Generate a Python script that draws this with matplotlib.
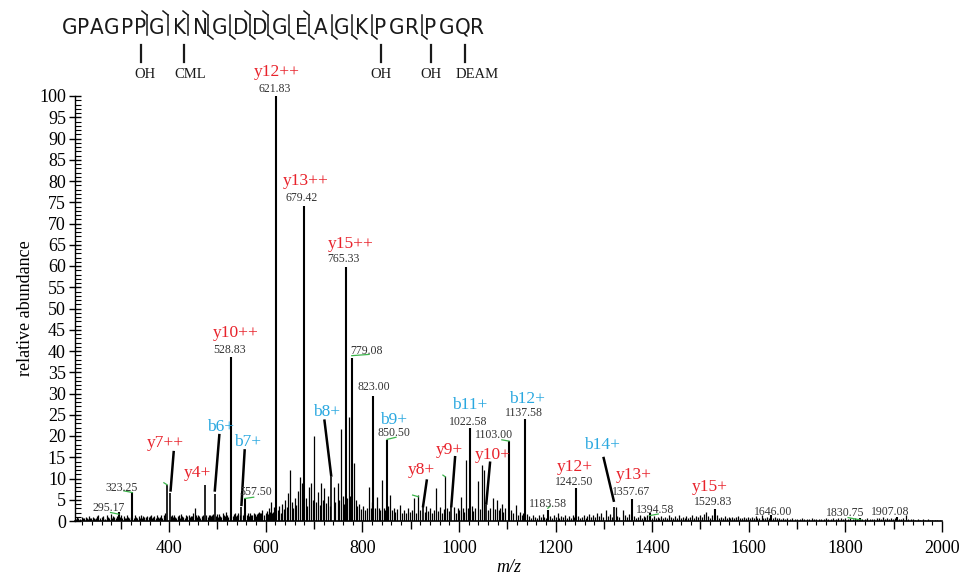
import matplotlib
matplotlib.use("Agg")
import matplotlib.pyplot as plt
from matplotlib.ticker import MultipleLocator, FuncFormatter
from matplotlib.lines import Line2D

# ---------------- data ----------------
# labelled peaks (m/z, relative abundance)
peak_mz = [621.83, 679.42, 765.33, 528.83, 779.08, 823.00, 1137.58, 1022.58, 850.50,
           1103.00, 323.25, 1242.50, 557.50, 1357.67, 1183.58, 1529.83, 295.17,
           1394.58, 1646.00, 1830.75, 1907.08]
peak_h = [100, 74.1, 59.8, 38.6, 38.4, 29.4, 23.9, 21.8, 19.0,
          18.9, 6.9, 7.7, 5.3, 5.1, 2.6, 2.75, 2.2,
          1.8, 1.4, 0.8, 0.9]

# peaks picked by the ion annotations
ion_mz = [396, 402.7, 473.6, 494.0, 548.0, 735.7, 925.3, 983.9, 1056.3, 1321.0]
ion_h = [8.5, 6.6, 8.5, 6.4, 3.2, 10.4, 3.2, 3.2, 3.8, 3.2]

# background peaks
noise_low = [(208, 0.5), (210, 0.9), (212, 0.8), (216, 0.4), (219, 1.0), (221, 0.7), (223, 0.6),
             (227, 0.9), (229, 0.6), (231, 0.5), (234, 1.2), (236, 0.8), (238, 0.7), (242, 1.0),
             (244, 0.6), (246, 0.5), (249, 0.8), (251, 1.1), (253, 1.3), (257, 0.6), (260, 0.9),
             (262, 0.7), (264, 1.1), (268, 0.5), (271, 1.4), (273, 0.9), (275, 0.8), (279, 1.6),
             (282, 0.7), (284, 1.2), (286, 1.0), (289, 0.6), (292, 1.2), (299, 0.9), (301, 1.3),
             (303, 0.6), (306, 1.1), (308, 0.8), (310, 0.8), (313, 1.5), (315, 1.0), (317, 0.7),
             (320, 1.0), (327, 0.8), (330, 1.3), (332, 0.9), (334, 0.6), (337, 1.1), (339, 0.8),
             (341, 1.4), (344, 0.7), (346, 1.2), (348, 1.0), (351, 0.6), (353, 0.9), (355, 1.2),
             (358, 0.9), (360, 1.1), (362, 1.5), (365, 0.7), (367, 1.0), (369, 1.1), (372, 0.6),
             (375, 1.4), (377, 0.9), (379, 0.8), (382, 1.0), (384, 1.3), (386, 0.7), (389, 1.3),
             (392, 1.8), (404, 1.2), (406, 1.5), (408, 0.9), (411, 1.4), (413, 1.0), (415, 0.8),
             (418, 1.1), (420, 1.4), (422, 0.7), (425, 1.6), (427, 1.1), (429, 1.0), (432, 0.8),
             (434, 1.3), (436, 1.2), (440, 1.5), (443, 0.9), (445, 1.2), (447, 1.1), (450, 1.8),
             (453, 3.0), (455, 1.3), (457, 1.0), (460, 1.4), (462, 1.1), (464, 0.8), (467, 1.2),
             (469, 1.5), (471, 1.0), (477, 1.3), (480, 0.9), (482, 1.4), (484, 1.5), (487, 1.1),
             (489, 1.4), (491, 1.7), (497, 1.2), (499, 1.6), (501, 0.9), (504, 1.6), (506, 1.2),
             (508, 1.0), (511, 1.9), (513, 1.3), (515, 1.2), (518, 2.2), (520, 1.5), (522, 1.0),
             (525, 1.5), (532, 1.1), (534, 1.6), (536, 1.8), (539, 1.2), (541, 1.5), (543, 2.0),
             (546, 1.4), (552, 1.4), (554, 1.8), (561, 1.5), (563, 1.9), (565, 1.1), (568, 1.8),
             (570, 1.3), (572, 1.4), (575, 2.0), (577, 1.6), (579, 1.2), (582, 1.6), (584, 1.9),
             (586, 2.2), (589, 1.8), (591, 2.0), (593, 2.6), (597, 1.5), (600, 2.0), (602, 2.4),
             (604, 1.6), (607, 3.0), (609, 2.2), (611, 4.5), (613, 2.0), (615, 2.2), (618, 3.2)]
noise_mid = [(625, 2.5), (628, 3.5), (631, 2.0), (634, 4.0), (637, 2.8), (640, 5.0), (643, 3.2),
             (646, 6.5), (651, 12.0), (654, 4.5), (657, 3.0), (660, 5.5), (663, 3.8), (666, 7.0),
             (670, 10.3), (674, 9.0), (677, 4.0), (683, 5.5), (686, 3.5), (690, 8.0), (693, 8.9),
             (697, 5.0), (700.5, 20.0), (704, 4.5), (708, 6.9), (712, 3.8), (715, 8.9), (718, 5.0),
             (721, 7.7), (725, 4.2), (728, 6.0), (732, 3.5), (740.5, 8.0), (744, 4.5), (748.7, 8.9),
             (752, 5.0), (755.7, 21.6), (759, 6.0), (762, 4.0), (769, 5.5), (771.5, 24.4), (775, 6.0),
             (782, 13.6), (786, 5.0), (789, 3.5), (793, 4.0), (797, 2.8), (801, 3.5), (805, 2.5),
             (809, 3.0), (813, 7.9), (817, 3.0), (820, 4.5), (826, 3.0), (830, 5.6), (834, 3.0),
             (837, 2.5), (840.5, 9.6), (844, 3.0), (847, 2.5), (853, 3.5), (857.7, 6.1), (861, 2.5),
             (865, 3.0), (868, 2.2), (872, 2.8), (878, 3.8), (882, 2.0), (886, 2.5), (890, 1.8),
             (894, 3.0), (898, 2.2), (902, 2.5), (906, 5.3), (910, 2.0), (916, 6.1), (920, 2.5),
             (929, 2.2), (932, 3.5), (936, 2.4), (940, 3.0), (944, 2.0), (948, 2.6), (953, 7.7),
             (957, 2.4), (961, 3.2), (965, 2.0), (968, 2.8), (971.5, 10.6), (976, 3.0), (980, 2.4),
             (989, 3.2), (993, 2.0), (997, 3.0), (1000, 2.5), (1004, 5.7), (1008, 3.0), (1011, 2.2),
             (1015, 14.4), (1019, 3.0), (1026, 3.5), (1030, 2.4), (1034, 3.0), (1039, 9.3),
             (1043, 2.8), (1048.6, 13.2), (1052.8, 12.0), (1061, 2.5), (1065, 3.0), (1071, 5.3),
             (1075, 2.8), (1078, 5.0), (1082, 2.5), (1085, 3.0), (1088.7, 4.0), (1092, 2.2),
             (1096, 3.0), (1108, 2.5), (1112, 2.0), (1117.7, 3.8), (1122, 1.5), (1126, 2.2),
             (1130, 1.4), (1133, 1.8), (1141, 1.6)]
noise_high = [(1145, 1.2), (1149, 0.8), (1153, 1.5), (1157, 1.0), (1161, 0.7), (1165, 1.3),
              (1169, 0.9), (1173, 1.6), (1177, 1.0), (1180, 0.8), (1188, 1.1), (1192, 0.7),
              (1196, 1.4), (1200, 1.0), (1204, 1.8), (1208, 0.8), (1212, 1.2), (1216, 0.9),
              (1220, 1.5), (1224, 0.7), (1228, 1.1), (1232, 0.8), (1236, 1.3), (1238, 1.0),
              (1246, 1.2), (1250, 0.7), (1254, 1.0), (1258, 1.4), (1262, 0.8), (1266, 1.1),
              (1270, 1.7), (1274, 0.9), (1278, 1.3), (1282, 1.0), (1286, 1.8), (1290, 1.2),
              (1294, 2.0), (1298, 1.0), (1304.5, 2.7), (1308, 1.2), (1312, 1.6), (1316, 1.0),
              (1324.5, 3.2), (1328, 1.2), (1332, 1.0), (1339, 2.6), (1343, 1.4), (1347, 1.0),
              (1351, 1.6), (1362, 1.2), (1366, 0.8), (1370, 1.0), (1374, 1.4), (1378, 0.7),
              (1382, 1.1), (1386, 0.9), (1390, 1.3), (1399, 0.8), (1403, 1.1), (1407, 0.6),
              (1411, 1.0), (1415, 0.7), (1419, 1.2), (1423, 0.8), (1427, 1.0), (1431, 0.6),
              (1435, 1.3), (1439, 0.9), (1443, 0.7), (1447, 1.1), (1451, 0.8), (1455, 1.4),
              (1459, 0.7), (1463, 1.0), (1467, 0.8), (1471, 1.2), (1475, 0.6), (1479, 1.0),
              (1483, 1.3), (1487, 0.7), (1491, 1.1), (1495, 0.9), (1499, 1.4), (1503, 1.0),
              (1507, 1.6), (1511.6, 2.2), (1515, 1.2), (1519, 0.8), (1523, 1.3), (1534, 1.4),
              (1538, 0.8), (1542, 1.0), (1546, 0.7), (1550, 1.2), (1554, 0.6), (1558, 0.9),
              (1562, 0.7), (1566, 1.0), (1570, 0.6), (1574, 0.9), (1578, 1.1), (1582, 0.6),
              (1586, 0.8), (1590, 1.0), (1594, 0.6), (1598, 0.9), (1602, 0.7), (1606, 1.0),
              (1610, 0.6), (1614, 1.1), (1618, 0.8), (1622, 0.7), (1626.5, 1.4), (1630, 0.8),
              (1634, 0.6), (1638, 0.9), (1642, 0.7), (1651, 0.8), (1655, 1.0), (1659, 0.6),
              (1663, 0.8), (1667, 0.5), (1671, 0.7), (1675, 0.5), (1680, 0.6), (1685, 0.4),
              (1690, 0.6), (1695, 0.4), (1700, 0.5), (1705, 0.4), (1710, 0.6), (1715, 0.4),
              (1720, 0.5), (1725, 0.4), (1730, 0.6), (1735, 0.4), (1740, 0.5), (1745, 0.4),
              (1750, 0.5), (1755, 0.4), (1760, 0.6), (1765, 0.4), (1770, 0.5), (1775, 0.7),
              (1780, 0.4), (1785, 0.6), (1790, 0.8), (1795, 0.5), (1800, 0.6), (1805, 0.4),
              (1810, 0.7), (1815, 0.5), (1820, 0.6), (1825, 0.4), (1835, 0.5), (1840, 0.4),
              (1845, 0.6), (1850, 0.4), (1855, 0.5), (1860, 0.4), (1865, 0.6), (1870, 0.8),
              (1874, 0.5), (1878, 1.0), (1882, 0.5), (1886, 0.6), (1890, 0.4), (1894, 0.7),
              (1898, 0.5), (1902, 0.6), (1912, 0.5), (1916, 0.4), (1920, 0.6), (1926, 1.4),
              (1930, 0.5), (1935, 0.4), (1940, 0.5), (1945, 0.3), (1950, 0.4), (1955, 0.3),
              (1960, 0.4), (1965, 0.3), (1970, 0.4), (1975, 0.3), (1980, 0.3), (1985, 0.3),
              (1990, 0.3), (1995, 0.3)]

# ion labels: text, ion type, label position (m/z, height)
ion_labels = [("y12++", "y", 623.4, 105.7), ("y13++", "y", 682, 80.1), ("y15++", "y", 775, 65.2),
              ("y10++", "y", 537, 44.3), ("y7++", "y", 392.3, 18.3), ("y4+", "y", 458, 11.2),
              ("b6+", "b", 506, 22.2), ("b7+", "b", 561.3, 18.7), ("b8+", "b", 726.8, 25.6),
              ("b9+", "b", 864.6, 23.8), ("b11+", "b", 1023, 27.3), ("b12+", "b", 1141.7, 28.6),
              ("y8+", "y", 921.8, 12.0), ("y9+", "y", 980.4, 16.7), ("y10+", "y", 1070, 15.5),
              ("y12+", "y", 1240, 12.8), ("b14+", "b", 1295.5, 17.9), ("y13+", "y", 1361, 10.8),
              ("y15+", "y", 1519.6, 8.1)]

# m/z value labels: text, position (m/z, height)
mz_labels = [("621.83", 618.4, 101.6), ("679.42", 675, 75.9), ("765.33", 760, 61.6),
             ("528.83", 524.7, 40.2), ("779.08", 809.5, 40.1), ("823.00", 824.6, 31.6),
             ("850.50", 866, 20.6), ("1022.58", 1019.7, 23.4), ("1137.58", 1134.8, 25.5),
             ("1103.00", 1073.5, 20.2), ("1242.50", 1238, 9.2), ("1183.58", 1185, 4.0),
             ("557.50", 578.5, 6.9), ("323.25", 301.3, 7.7), ("295.17", 273.8, 3.0),
             ("1357.67", 1355.5, 6.9), ("1394.58", 1407, 2.6), ("1529.83", 1526.4, 4.5),
             ("1646.00", 1650.5, 2.2), ("1830.75", 1798.8, 2.0), ("1907.08", 1893, 2.2)]

# black leader lines (m/z1, h1, m/z2, h2)
leaders = [(402.7, 6.9, 409.5, 16.5), (494.3, 6.9, 504, 20.5), (549.5, 3.5, 556.4, 16.9),
           (721.2, 23.9, 735.7, 10.4), (933.6, 9.8, 925.3, 3.2), (992.1, 15.3, 983.9, 3.2),
           (1064.5, 14.0, 1056.3, 3.8), (1298.9, 15.1, 1321.0, 4.5)]

# small green connectors (m/z1, h1, m/z2, h2)
greens = [(778, 38.9, 814, 39.2), (851, 19.2, 869.5, 19.7), (1088.7, 19.1, 1103.8, 18.8),
          (1184, 3.0, 1188.6, 3.5), (556.4, 5.3, 575, 5.6), (306, 7.1, 323.5, 6.7),
          (278.6, 2.0, 295.8, 1.6), (389, 9.0, 396, 8.5), (904, 6.1, 916, 5.7),
          (966.7, 10.8, 971.5, 10.4), (1394, 1.25, 1412.6, 1.65), (1805.6, 0.8, 1833.3, 0.2)]

sequence = list("GPAGPPGKNGDDGEAGKPGRPGQR")
mods = ["OH", "CML", "OH", "OH", "DEAM"]

# ---------------- layout helpers ----------------
W, H = 963, 575
RED = "#e8222b"
BLUE = "#2aa8e0"
INK = "#1a1a1a"


def fx(x):
    return x / W


def fy(y):
    return 1 - y / H


fig = plt.figure(figsize=(W / 100, H / 100), dpi=100)
ax = fig.add_axes([fx(75), 1 - 521 / H, 867 / W, 425 / H])

serif = "Liberation Serif"

# ---------------- spectrum ----------------
for group in (noise_low, noise_mid, noise_high):
    ax.vlines([p[0] for p in group], 0, [p[1] for p in group], color="black", lw=0.9)
ax.vlines(ion_mz, 0, ion_h, color="black", lw=1.2)
ax.vlines(peak_mz, 0, peak_h, color="black", lw=1.5)

for x1, y1, x2, y2 in leaders:
    ax.plot([x1, x2], [y1, y2], color="black", lw=1.8, solid_capstyle="butt")
for x1, y1, x2, y2 in greens:
    ax.plot([x1, x2], [y1, y2], color="#3cb44b", lw=0.9)

for txt, kind, x, y in ion_labels:
    ax.text(x, y, txt, color=RED if kind == "y" else BLUE, fontsize=12.5,
            family=serif, ha="center", va="center", clip_on=False)
for txt, x, y in mz_labels:
    ax.text(x, y, txt, color="#333333", fontsize=8.5, family=serif,
            ha="center", va="center", clip_on=False)

# ---------------- axes ----------------
ax.set_xlim(205, 2000)
ax.set_ylim(0, 100)
for s in ("top", "right"):
    ax.spines[s].set_visible(False)
ax.spines["left"].set_linewidth(1.0)
ax.spines["bottom"].set_linewidth(1.2)

ax.xaxis.set_major_locator(MultipleLocator(100))
ax.xaxis.set_minor_locator(MultipleLocator(20))
ax.xaxis.set_major_formatter(FuncFormatter(lambda v, p: "%d" % v if v % 200 == 0 else ""))
ax.yaxis.set_major_locator(MultipleLocator(5))
ax.yaxis.set_minor_locator(MultipleLocator(1))

ax.tick_params(axis="x", which="major", direction="out", length=8, width=1, pad=6, labelsize=13)
ax.tick_params(axis="x", which="minor", direction="out", length=3, width=0.8)
ax.tick_params(axis="y", which="major", direction="inout", length=9, width=1, pad=2, labelsize=13)
ax.tick_params(axis="y", which="minor", direction="in", length=4, width=0.8)
for lab in ax.get_xticklabels() + ax.get_yticklabels():
    lab.set_family(serif)
for t in ax.xaxis.get_major_ticks():
    if round(t.get_loc()) % 200 != 0:
        t.tick1line.set_markersize(5.5)

ax.set_ylabel("relative abundance", family=serif, fontsize=13, labelpad=4)
ax.set_xlabel("m/z", family=serif, fontsize=13, style="italic", labelpad=1)

# ---------------- sequence header ----------------
letter_x = [70, 83, 97, 112, 127, 140, 157, 180, 200, 220, 241, 260, 280, 301, 321, 342,
            362, 380, 397, 412, 430, 447, 463, 477]
for ch, x in zip(sequence, letter_x):
    fig.text(fx(x), fy(28), ch, family=["Liberation Sans Narrow", "DejaVu Sans"],
             fontstretch="condensed", fontsize=16, ha="center", va="center", color=INK)

cut_x = [147, 168, 188, 208, 230, 250, 268, 289, 309, 332, 352, 372, 422]
cut_kind = ["b", "b", "b", "by", "y", "by", "by", "y", "by", "y", "y", "y", "y"]
for x, k in zip(cut_x, cut_kind):
    fig.add_artist(Line2D([fx(x), fx(x)], [fy(15), fy(35)], color=INK, lw=1.1))
    if "b" in k:
        fig.add_artist(Line2D([fx(x - 5), fx(x)], [fy(11), fy(15)], color=INK, lw=1.1))
    if "y" in k:
        fig.add_artist(Line2D([fx(x), fx(x + 5)], [fy(35), fy(39)], color=INK, lw=1.1))

mod_tick_x = [141, 184, 381, 431, 465]
mod_text_x = [145, 190, 381, 431, 477]
for m, tx, lx in zip(mods, mod_tick_x, mod_text_x):
    fig.add_artist(Line2D([fx(tx), fx(tx)], [fy(45), fy(62)], color=INK, lw=1.6))
    fig.text(fx(lx), fy(74), m, family=serif, fontsize=10.5, ha="center", va="center", color=INK)

fig.savefig("out.png", dpi=100)
